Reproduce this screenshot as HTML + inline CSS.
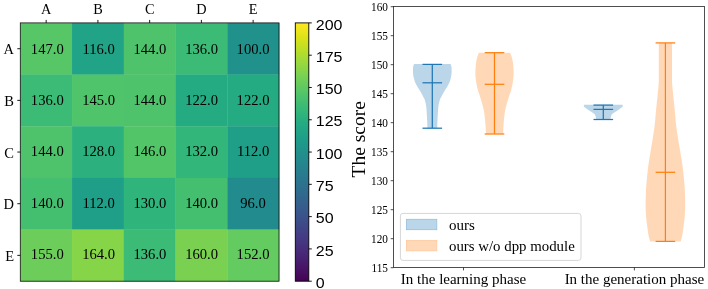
<!DOCTYPE html><html><head><meta charset="utf-8"><style>html,body{margin:0;padding:0;background:#fff;}svg{display:block;will-change:transform;}.s{font-family:"Liberation Serif",serif;} .ss{font-family:"Liberation Sans",sans-serif;}</style></head><body>
<svg width="708" height="289" viewBox="0 0 708 289">
<defs><linearGradient id="cb" x1="0" y1="1" x2="0" y2="0">
<stop offset="0.0000" stop-color="#440154"/>
<stop offset="0.0312" stop-color="#470d60"/>
<stop offset="0.0625" stop-color="#48186a"/>
<stop offset="0.0938" stop-color="#482374"/>
<stop offset="0.1250" stop-color="#472d7b"/>
<stop offset="0.1562" stop-color="#453781"/>
<stop offset="0.1875" stop-color="#424086"/>
<stop offset="0.2188" stop-color="#3e4989"/>
<stop offset="0.2500" stop-color="#3b528b"/>
<stop offset="0.2812" stop-color="#375b8d"/>
<stop offset="0.3125" stop-color="#33638d"/>
<stop offset="0.3438" stop-color="#2f6b8e"/>
<stop offset="0.3750" stop-color="#2c728e"/>
<stop offset="0.4062" stop-color="#297a8e"/>
<stop offset="0.4375" stop-color="#26828e"/>
<stop offset="0.4688" stop-color="#23898e"/>
<stop offset="0.5000" stop-color="#21918c"/>
<stop offset="0.5312" stop-color="#1f988b"/>
<stop offset="0.5625" stop-color="#1fa088"/>
<stop offset="0.5938" stop-color="#22a785"/>
<stop offset="0.6250" stop-color="#28ae80"/>
<stop offset="0.6562" stop-color="#32b67a"/>
<stop offset="0.6875" stop-color="#3fbc73"/>
<stop offset="0.7188" stop-color="#4ec36b"/>
<stop offset="0.7500" stop-color="#5ec962"/>
<stop offset="0.7812" stop-color="#70cf57"/>
<stop offset="0.8125" stop-color="#84d44b"/>
<stop offset="0.8438" stop-color="#98d83e"/>
<stop offset="0.8750" stop-color="#addc30"/>
<stop offset="0.9062" stop-color="#c2df23"/>
<stop offset="0.9375" stop-color="#d8e219"/>
<stop offset="0.9688" stop-color="#ece51b"/>
<stop offset="1.0000" stop-color="#fde725"/>
</linearGradient></defs>
<rect x="20.30" y="22.90" width="52.04" height="51.96" fill="#56c667"/>
<rect x="72.04" y="22.90" width="52.04" height="51.96" fill="#20a386"/>
<rect x="123.78" y="22.90" width="52.04" height="51.96" fill="#4ec36b"/>
<rect x="175.52" y="22.90" width="52.04" height="51.96" fill="#3bbb75"/>
<rect x="227.26" y="22.90" width="52.04" height="51.96" fill="#21918c"/>
<rect x="20.30" y="74.56" width="52.04" height="51.96" fill="#3bbb75"/>
<rect x="72.04" y="74.56" width="52.04" height="51.96" fill="#50c46a"/>
<rect x="123.78" y="74.56" width="52.04" height="51.96" fill="#4ec36b"/>
<rect x="175.52" y="74.56" width="52.04" height="51.96" fill="#25ab82"/>
<rect x="227.26" y="74.56" width="52.04" height="51.96" fill="#25ab82"/>
<rect x="20.30" y="126.22" width="52.04" height="51.96" fill="#4ec36b"/>
<rect x="72.04" y="126.22" width="52.04" height="51.96" fill="#2cb17e"/>
<rect x="123.78" y="126.22" width="52.04" height="51.96" fill="#52c569"/>
<rect x="175.52" y="126.22" width="52.04" height="51.96" fill="#32b67a"/>
<rect x="227.26" y="126.22" width="52.04" height="51.96" fill="#1f9f88"/>
<rect x="20.30" y="177.88" width="52.04" height="51.96" fill="#44bf70"/>
<rect x="72.04" y="177.88" width="52.04" height="51.96" fill="#1f9f88"/>
<rect x="123.78" y="177.88" width="52.04" height="51.96" fill="#2fb47c"/>
<rect x="175.52" y="177.88" width="52.04" height="51.96" fill="#44bf70"/>
<rect x="227.26" y="177.88" width="52.04" height="51.96" fill="#228b8d"/>
<rect x="20.30" y="229.54" width="52.04" height="51.96" fill="#6ccd5a"/>
<rect x="72.04" y="229.54" width="52.04" height="51.96" fill="#86d549"/>
<rect x="123.78" y="229.54" width="52.04" height="51.96" fill="#3bbb75"/>
<rect x="175.52" y="229.54" width="52.04" height="51.96" fill="#7ad151"/>
<rect x="227.26" y="229.54" width="52.04" height="51.96" fill="#63cb5f"/>
<text class="s" transform="translate(47.27,53.58)" font-size="14.6" text-anchor="middle" fill="#000">147.0</text>
<text class="s" transform="translate(98.61,53.58)" font-size="14.6" text-anchor="middle" fill="#000">116.0</text>
<text class="s" transform="translate(149.95,53.58)" font-size="14.6" text-anchor="middle" fill="#000">144.0</text>
<text class="s" transform="translate(201.59,53.58)" font-size="14.6" text-anchor="middle" fill="#000">136.0</text>
<text class="s" transform="translate(253.03,53.58)" font-size="14.6" text-anchor="middle" fill="#000">100.0</text>
<text class="s" transform="translate(47.27,104.84)" font-size="14.6" text-anchor="middle" fill="#000">136.0</text>
<text class="s" transform="translate(98.61,104.84)" font-size="14.6" text-anchor="middle" fill="#000">145.0</text>
<text class="s" transform="translate(149.95,104.84)" font-size="14.6" text-anchor="middle" fill="#000">144.0</text>
<text class="s" transform="translate(201.59,104.84)" font-size="14.6" text-anchor="middle" fill="#000">122.0</text>
<text class="s" transform="translate(253.03,104.84)" font-size="14.6" text-anchor="middle" fill="#000">122.0</text>
<text class="s" transform="translate(47.27,156.00)" font-size="14.6" text-anchor="middle" fill="#000">144.0</text>
<text class="s" transform="translate(98.61,156.00)" font-size="14.6" text-anchor="middle" fill="#000">128.0</text>
<text class="s" transform="translate(149.95,156.00)" font-size="14.6" text-anchor="middle" fill="#000">146.0</text>
<text class="s" transform="translate(201.59,156.00)" font-size="14.6" text-anchor="middle" fill="#000">132.0</text>
<text class="s" transform="translate(253.03,156.00)" font-size="14.6" text-anchor="middle" fill="#000">112.0</text>
<text class="s" transform="translate(47.27,208.26)" font-size="14.6" text-anchor="middle" fill="#000">140.0</text>
<text class="s" transform="translate(98.61,208.26)" font-size="14.6" text-anchor="middle" fill="#000">112.0</text>
<text class="s" transform="translate(149.95,208.26)" font-size="14.6" text-anchor="middle" fill="#000">130.0</text>
<text class="s" transform="translate(201.59,208.26)" font-size="14.6" text-anchor="middle" fill="#000">140.0</text>
<text class="s" transform="translate(253.03,208.26)" font-size="14.6" text-anchor="middle" fill="#000">96.0</text>
<text class="s" transform="translate(47.27,259.22)" font-size="14.6" text-anchor="middle" fill="#000">155.0</text>
<text class="s" transform="translate(98.61,259.22)" font-size="14.6" text-anchor="middle" fill="#000">164.0</text>
<text class="s" transform="translate(149.95,259.22)" font-size="14.6" text-anchor="middle" fill="#000">136.0</text>
<text class="s" transform="translate(201.59,259.22)" font-size="14.6" text-anchor="middle" fill="#000">160.0</text>
<text class="s" transform="translate(253.03,259.22)" font-size="14.6" text-anchor="middle" fill="#000">152.0</text>
<rect x="20.30" y="22.90" width="258.70" height="258.30" fill="none" stroke="#111" stroke-width="0.8"/>
<line x1="46.17" y1="19.90" x2="46.17" y2="22.90" stroke="#000" stroke-width="0.9"/>
<text class="s" x="46.17" y="13.80" font-size="14.3" text-anchor="middle">A</text>
<line x1="17.30" y1="48.73" x2="20.30" y2="48.73" stroke="#000" stroke-width="0.9"/>
<text class="s" x="14.00" y="54.33" font-size="14.5" text-anchor="end">A</text>
<line x1="97.91" y1="19.90" x2="97.91" y2="22.90" stroke="#000" stroke-width="0.9"/>
<text class="s" x="97.91" y="13.80" font-size="14.3" text-anchor="middle">B</text>
<line x1="17.30" y1="100.39" x2="20.30" y2="100.39" stroke="#000" stroke-width="0.9"/>
<text class="s" x="14.00" y="105.99" font-size="14.5" text-anchor="end">B</text>
<line x1="149.65" y1="19.90" x2="149.65" y2="22.90" stroke="#000" stroke-width="0.9"/>
<text class="s" x="149.65" y="13.80" font-size="14.3" text-anchor="middle">C</text>
<line x1="17.30" y1="152.05" x2="20.30" y2="152.05" stroke="#000" stroke-width="0.9"/>
<text class="s" x="14.00" y="157.65" font-size="14.5" text-anchor="end">C</text>
<line x1="201.39" y1="19.90" x2="201.39" y2="22.90" stroke="#000" stroke-width="0.9"/>
<text class="s" x="201.39" y="13.80" font-size="14.3" text-anchor="middle">D</text>
<line x1="17.30" y1="203.71" x2="20.30" y2="203.71" stroke="#000" stroke-width="0.9"/>
<text class="s" x="14.00" y="209.31" font-size="14.5" text-anchor="end">D</text>
<line x1="253.13" y1="19.90" x2="253.13" y2="22.90" stroke="#000" stroke-width="0.9"/>
<text class="s" x="253.13" y="13.80" font-size="14.3" text-anchor="middle">E</text>
<line x1="17.30" y1="255.37" x2="20.30" y2="255.37" stroke="#000" stroke-width="0.9"/>
<text class="s" x="14.00" y="260.97" font-size="14.5" text-anchor="end">E</text>
<rect x="295.3" y="22.9" width="13.50" height="258.30" fill="url(#cb)" stroke="#000" stroke-width="0.9"/>
<line x1="308.80" y1="281.20" x2="311.80" y2="281.20" stroke="#000" stroke-width="0.9"/>
<text class="ss" transform="translate(315.80,287.80) scale(1,0.93)" font-size="16">0</text>
<line x1="308.80" y1="248.91" x2="311.80" y2="248.91" stroke="#000" stroke-width="0.9"/>
<text class="ss" transform="translate(315.80,255.51) scale(1,0.93)" font-size="16">25</text>
<line x1="308.80" y1="216.62" x2="311.80" y2="216.62" stroke="#000" stroke-width="0.9"/>
<text class="ss" transform="translate(315.80,223.22) scale(1,0.93)" font-size="16">50</text>
<line x1="308.80" y1="184.34" x2="311.80" y2="184.34" stroke="#000" stroke-width="0.9"/>
<text class="ss" transform="translate(315.80,190.94) scale(1,0.93)" font-size="16">75</text>
<line x1="308.80" y1="152.05" x2="311.80" y2="152.05" stroke="#000" stroke-width="0.9"/>
<text class="ss" transform="translate(315.80,158.65) scale(1,0.93)" font-size="16">100</text>
<line x1="308.80" y1="119.76" x2="311.80" y2="119.76" stroke="#000" stroke-width="0.9"/>
<text class="ss" transform="translate(315.80,126.36) scale(1,0.93)" font-size="16">125</text>
<line x1="308.80" y1="87.47" x2="311.80" y2="87.47" stroke="#000" stroke-width="0.9"/>
<text class="ss" transform="translate(315.80,94.07) scale(1,0.93)" font-size="16">150</text>
<line x1="308.80" y1="55.19" x2="311.80" y2="55.19" stroke="#000" stroke-width="0.9"/>
<text class="ss" transform="translate(315.80,61.79) scale(1,0.93)" font-size="16">175</text>
<line x1="308.80" y1="22.90" x2="311.80" y2="22.90" stroke="#000" stroke-width="0.9"/>
<text class="ss" transform="translate(315.80,29.50) scale(1,0.93)" font-size="16">200</text>
<path d="M414.10,64.00 L413.63,65.09 L413.24,66.18 L413.05,67.27 L413.01,68.36 L412.98,69.45 L412.96,70.54 L412.95,71.63 L412.97,72.72 L413.06,73.81 L413.22,74.90 L413.41,75.99 L413.61,77.08 L413.84,78.17 L414.11,79.26 L414.42,80.35 L414.77,81.44 L415.19,82.53 L415.71,83.62 L416.27,84.71 L416.87,85.80 L417.51,86.89 L418.19,87.98 L418.90,89.07 L419.61,90.16 L420.29,91.25 L420.92,92.34 L421.50,93.43 L422.07,94.52 L422.63,95.61 L423.19,96.69 L423.79,97.78 L424.36,98.87 L424.78,99.96 L425.11,101.05 L425.40,102.14 L425.67,103.23 L425.90,104.32 L426.09,105.41 L426.23,106.50 L426.34,107.59 L426.43,108.68 L426.51,109.77 L426.58,110.86 L426.65,111.95 L426.72,113.04 L426.80,114.13 L426.87,115.22 L426.94,116.31 L427.00,117.40 L427.06,118.49 L427.11,119.58 L427.16,120.67 L427.21,121.76 L427.25,122.85 L427.29,123.94 L427.33,125.03 L427.36,126.12 L427.38,127.21 L427.40,128.30 L437.20,128.30 L437.22,127.21 L437.24,126.12 L437.27,125.03 L437.31,123.94 L437.35,122.85 L437.39,121.76 L437.44,120.67 L437.49,119.58 L437.54,118.49 L437.60,117.40 L437.66,116.31 L437.73,115.22 L437.80,114.13 L437.88,113.04 L437.95,111.95 L438.02,110.86 L438.09,109.77 L438.17,108.68 L438.26,107.59 L438.37,106.50 L438.51,105.41 L438.70,104.32 L438.93,103.23 L439.20,102.14 L439.49,101.05 L439.82,99.96 L440.24,98.87 L440.81,97.78 L441.41,96.69 L441.97,95.61 L442.53,94.52 L443.10,93.43 L443.68,92.34 L444.31,91.25 L444.99,90.16 L445.70,89.07 L446.41,87.98 L447.09,86.89 L447.73,85.80 L448.33,84.71 L448.89,83.62 L449.41,82.53 L449.83,81.44 L450.18,80.35 L450.49,79.26 L450.76,78.17 L450.99,77.08 L451.19,75.99 L451.38,74.90 L451.54,73.81 L451.63,72.72 L451.65,71.63 L451.64,70.54 L451.62,69.45 L451.59,68.36 L451.55,67.27 L451.36,66.18 L450.97,65.09 L450.50,64.00 Z" fill="rgb(188,214,233)" stroke="none"/>
<path d="M478.90,52.70 L478.32,54.07 L477.79,55.45 L477.33,56.82 L476.95,58.20 L476.64,59.57 L476.36,60.95 L476.11,62.32 L475.91,63.70 L475.77,65.07 L475.67,66.45 L475.58,67.82 L475.49,69.19 L475.43,70.57 L475.38,71.94 L475.35,73.32 L475.36,74.69 L475.43,76.07 L475.55,77.44 L475.71,78.82 L475.90,80.19 L476.10,81.57 L476.30,82.94 L476.53,84.32 L476.80,85.69 L477.10,87.06 L477.43,88.44 L477.79,89.81 L478.17,91.19 L478.61,92.56 L479.12,93.94 L479.60,95.31 L480.05,96.69 L480.49,98.06 L480.92,99.44 L481.33,100.81 L481.73,102.18 L482.11,103.56 L482.49,104.93 L482.87,106.31 L483.22,107.68 L483.54,109.06 L483.82,110.43 L484.05,111.81 L484.27,113.18 L484.46,114.56 L484.63,115.93 L484.79,117.31 L484.94,118.68 L485.07,120.05 L485.19,121.43 L485.31,122.80 L485.41,124.18 L485.51,125.55 L485.61,126.93 L485.70,128.30 L485.78,129.68 L485.86,131.05 L485.93,132.43 L486.00,133.80 L503.00,133.80 L503.07,132.43 L503.14,131.05 L503.22,129.68 L503.30,128.30 L503.39,126.93 L503.49,125.55 L503.59,124.18 L503.69,122.80 L503.81,121.43 L503.93,120.05 L504.06,118.68 L504.21,117.31 L504.37,115.93 L504.54,114.56 L504.73,113.18 L504.95,111.81 L505.18,110.43 L505.46,109.06 L505.78,107.68 L506.13,106.31 L506.51,104.93 L506.89,103.56 L507.27,102.18 L507.67,100.81 L508.08,99.44 L508.51,98.06 L508.95,96.69 L509.40,95.31 L509.88,93.94 L510.39,92.56 L510.83,91.19 L511.21,89.81 L511.57,88.44 L511.90,87.06 L512.20,85.69 L512.47,84.32 L512.70,82.94 L512.90,81.57 L513.10,80.19 L513.29,78.82 L513.45,77.44 L513.57,76.07 L513.64,74.69 L513.65,73.32 L513.62,71.94 L513.57,70.57 L513.51,69.19 L513.42,67.82 L513.33,66.45 L513.23,65.07 L513.09,63.70 L512.89,62.32 L512.64,60.95 L512.36,59.57 L512.05,58.20 L511.67,56.82 L511.21,55.45 L510.68,54.07 L510.10,52.70 Z" fill="rgb(255,217,183)" stroke="none"/>
<path d="M584.10,104.80 L583.97,105.05 L583.88,105.30 L583.83,105.55 L583.81,105.80 L583.80,106.05 L583.81,106.29 L583.90,106.54 L584.09,106.79 L584.35,107.04 L584.66,107.29 L585.01,107.54 L585.36,107.79 L585.71,108.04 L586.04,108.29 L586.34,108.54 L586.66,108.79 L587.00,109.04 L587.34,109.28 L587.69,109.53 L588.05,109.78 L588.41,110.03 L588.77,110.28 L589.15,110.53 L589.54,110.78 L589.94,111.03 L590.36,111.28 L590.77,111.53 L591.19,111.78 L591.59,112.03 L591.97,112.27 L592.33,112.52 L592.69,112.77 L593.06,113.02 L593.42,113.27 L593.77,113.52 L594.10,113.77 L594.39,114.02 L594.63,114.27 L594.81,114.52 L594.95,114.77 L595.08,115.02 L595.20,115.26 L595.30,115.51 L595.39,115.76 L595.48,116.01 L595.55,116.26 L595.63,116.51 L595.69,116.76 L595.76,117.01 L595.82,117.26 L595.87,117.51 L595.92,117.76 L595.96,118.01 L595.99,118.25 L596.02,118.50 L596.05,118.75 L596.07,119.00 L596.09,119.25 L596.10,119.50 L610.50,119.50 L610.51,119.25 L610.53,119.00 L610.55,118.75 L610.58,118.50 L610.61,118.25 L610.64,118.01 L610.68,117.76 L610.73,117.51 L610.78,117.26 L610.84,117.01 L610.91,116.76 L610.97,116.51 L611.05,116.26 L611.12,116.01 L611.21,115.76 L611.30,115.51 L611.40,115.26 L611.52,115.02 L611.65,114.77 L611.79,114.52 L611.97,114.27 L612.21,114.02 L612.50,113.77 L612.83,113.52 L613.18,113.27 L613.54,113.02 L613.91,112.77 L614.27,112.52 L614.63,112.27 L615.01,112.03 L615.41,111.78 L615.83,111.53 L616.24,111.28 L616.66,111.03 L617.06,110.78 L617.45,110.53 L617.83,110.28 L618.19,110.03 L618.55,109.78 L618.91,109.53 L619.26,109.28 L619.60,109.04 L619.94,108.79 L620.26,108.54 L620.56,108.29 L620.89,108.04 L621.24,107.79 L621.59,107.54 L621.94,107.29 L622.25,107.04 L622.51,106.79 L622.70,106.54 L622.79,106.29 L622.80,106.05 L622.79,105.80 L622.77,105.55 L622.72,105.30 L622.63,105.05 L622.50,104.80 Z" fill="rgb(188,214,233)" stroke="none"/>
<path d="M658.80,42.90 L658.80,46.26 L658.80,49.63 L658.80,52.99 L658.80,56.36 L658.80,59.72 L658.80,63.09 L658.80,66.45 L658.80,69.82 L658.80,73.18 L658.80,76.54 L658.80,79.91 L658.70,83.27 L658.45,86.64 L658.11,90.00 L657.76,93.37 L657.44,96.73 L657.09,100.09 L656.73,103.46 L656.37,106.82 L656.03,110.19 L655.73,113.55 L655.45,116.92 L655.17,120.28 L654.85,123.65 L654.46,127.01 L654.00,130.37 L653.49,133.74 L652.96,137.10 L652.43,140.47 L651.87,143.83 L651.30,147.20 L650.72,150.56 L650.16,153.93 L649.60,157.29 L649.04,160.65 L648.53,164.02 L648.09,167.38 L647.69,170.75 L647.33,174.11 L646.99,177.48 L646.67,180.84 L646.36,184.21 L646.12,187.57 L645.95,190.93 L645.83,194.30 L645.72,197.66 L645.64,201.03 L645.60,204.39 L645.64,207.76 L645.75,211.12 L645.93,214.48 L646.16,217.85 L646.55,221.21 L647.01,224.58 L647.44,227.94 L647.86,231.31 L648.38,234.67 L649.13,238.04 L650.10,241.40 L680.70,241.40 L681.67,238.04 L682.42,234.67 L682.94,231.31 L683.36,227.94 L683.79,224.58 L684.25,221.21 L684.64,217.85 L684.87,214.48 L685.05,211.12 L685.16,207.76 L685.20,204.39 L685.16,201.03 L685.08,197.66 L684.97,194.30 L684.85,190.93 L684.68,187.57 L684.44,184.21 L684.13,180.84 L683.81,177.48 L683.47,174.11 L683.11,170.75 L682.71,167.38 L682.27,164.02 L681.76,160.65 L681.20,157.29 L680.64,153.93 L680.08,150.56 L679.50,147.20 L678.93,143.83 L678.37,140.47 L677.84,137.10 L677.31,133.74 L676.80,130.37 L676.34,127.01 L675.95,123.65 L675.63,120.28 L675.35,116.92 L675.07,113.55 L674.77,110.19 L674.43,106.82 L674.07,103.46 L673.71,100.09 L673.36,96.73 L673.04,93.37 L672.69,90.00 L672.35,86.64 L672.10,83.27 L672.00,79.91 L672.00,76.54 L672.00,73.18 L672.00,69.82 L672.00,66.45 L672.00,63.09 L672.00,59.72 L672.00,56.36 L672.00,52.99 L672.00,49.63 L672.00,46.26 L672.00,42.90 Z" fill="rgb(255,217,183)" stroke="none"/>
<line x1="432.30" y1="64.40" x2="432.30" y2="128.20" stroke="#1f77b4" stroke-width="1.25"/>
<line x1="422.50" y1="64.40" x2="442.10" y2="64.40" stroke="#1f77b4" stroke-width="1.25"/>
<line x1="422.50" y1="128.20" x2="442.10" y2="128.20" stroke="#1f77b4" stroke-width="1.25"/>
<line x1="422.50" y1="82.80" x2="442.10" y2="82.80" stroke="#1f77b4" stroke-width="1.25"/>
<line x1="494.50" y1="52.70" x2="494.50" y2="134.00" stroke="#ff7f0e" stroke-width="1.25"/>
<line x1="484.70" y1="52.70" x2="504.30" y2="52.70" stroke="#ff7f0e" stroke-width="1.25"/>
<line x1="484.70" y1="134.00" x2="504.30" y2="134.00" stroke="#ff7f0e" stroke-width="1.25"/>
<line x1="484.70" y1="84.30" x2="504.30" y2="84.30" stroke="#ff7f0e" stroke-width="1.25"/>
<line x1="603.30" y1="105.10" x2="603.30" y2="119.50" stroke="#1f77b4" stroke-width="1.25"/>
<line x1="593.50" y1="105.10" x2="613.10" y2="105.10" stroke="#1f77b4" stroke-width="1.25"/>
<line x1="593.50" y1="119.50" x2="613.10" y2="119.50" stroke="#1f77b4" stroke-width="1.25"/>
<line x1="593.50" y1="109.40" x2="613.10" y2="109.40" stroke="#1f77b4" stroke-width="1.25"/>
<line x1="665.40" y1="42.90" x2="665.40" y2="241.40" stroke="#ff7f0e" stroke-width="1.25"/>
<line x1="655.60" y1="42.90" x2="675.20" y2="42.90" stroke="#ff7f0e" stroke-width="1.25"/>
<line x1="655.60" y1="241.40" x2="675.20" y2="241.40" stroke="#ff7f0e" stroke-width="1.25"/>
<line x1="655.60" y1="172.30" x2="675.20" y2="172.30" stroke="#ff7f0e" stroke-width="1.25"/>
<rect x="393.5" y="6.4" width="310.90" height="261.00" fill="none" stroke="#222" stroke-width="0.8"/>
<line x1="390.70" y1="267.70" x2="393.50" y2="267.70" stroke="#222" stroke-width="0.8"/>
<text class="s" transform="translate(388.00,272.00) scale(1,1.1)" font-size="11.3" text-anchor="end">115</text>
<line x1="390.70" y1="238.70" x2="393.50" y2="238.70" stroke="#222" stroke-width="0.8"/>
<text class="s" transform="translate(388.00,243.00) scale(1,1.1)" font-size="11.3" text-anchor="end">120</text>
<line x1="390.70" y1="209.70" x2="393.50" y2="209.70" stroke="#222" stroke-width="0.8"/>
<text class="s" transform="translate(388.00,214.00) scale(1,1.1)" font-size="11.3" text-anchor="end">125</text>
<line x1="390.70" y1="180.70" x2="393.50" y2="180.70" stroke="#222" stroke-width="0.8"/>
<text class="s" transform="translate(388.00,185.00) scale(1,1.1)" font-size="11.3" text-anchor="end">130</text>
<line x1="390.70" y1="151.70" x2="393.50" y2="151.70" stroke="#222" stroke-width="0.8"/>
<text class="s" transform="translate(388.00,156.00) scale(1,1.1)" font-size="11.3" text-anchor="end">135</text>
<line x1="390.70" y1="122.70" x2="393.50" y2="122.70" stroke="#222" stroke-width="0.8"/>
<text class="s" transform="translate(388.00,127.00) scale(1,1.1)" font-size="11.3" text-anchor="end">140</text>
<line x1="390.70" y1="93.70" x2="393.50" y2="93.70" stroke="#222" stroke-width="0.8"/>
<text class="s" transform="translate(388.00,98.00) scale(1,1.1)" font-size="11.3" text-anchor="end">145</text>
<line x1="390.70" y1="64.70" x2="393.50" y2="64.70" stroke="#222" stroke-width="0.8"/>
<text class="s" transform="translate(388.00,69.00) scale(1,1.1)" font-size="11.3" text-anchor="end">150</text>
<line x1="390.70" y1="35.70" x2="393.50" y2="35.70" stroke="#222" stroke-width="0.8"/>
<text class="s" transform="translate(388.00,40.00) scale(1,1.1)" font-size="11.3" text-anchor="end">155</text>
<line x1="390.70" y1="6.70" x2="393.50" y2="6.70" stroke="#222" stroke-width="0.8"/>
<text class="s" transform="translate(388.00,11.00) scale(1,1.1)" font-size="11.3" text-anchor="end">160</text>
<line x1="463.5" y1="267.4" x2="463.5" y2="270.40" stroke="#222" stroke-width="0.8"/>
<text class="s" x="463.5" y="284.3" font-size="15" text-anchor="middle">In the learning phase</text>
<line x1="634.4" y1="267.4" x2="634.4" y2="270.40" stroke="#222" stroke-width="0.8"/>
<text class="s" x="634.4" y="284.3" font-size="15" text-anchor="middle">In the generation phase</text>
<text class="s" transform="translate(364.6,139.3) rotate(-90)" font-size="19.5" text-anchor="middle">The score</text>
<rect x="400.4" y="213.4" width="180.6" height="47" rx="2.5" fill="#fff" fill-opacity="0.8" stroke="#d6d6d6" stroke-width="1"/>
<rect x="406.4" y="219.3" width="30.4" height="10.4" fill="rgb(188,214,233)" stroke="rgb(150,190,222)" stroke-width="0.8"/>
<rect x="406.4" y="240.4" width="30.4" height="10.4" fill="rgb(255,217,183)" stroke="rgb(255,200,160)" stroke-width="0.8"/>
<text class="s" x="449" y="230.3" font-size="15">ours</text>
<text class="s" x="449" y="251.2" font-size="14.85">ours w/o dpp module</text>
</svg></body></html>
